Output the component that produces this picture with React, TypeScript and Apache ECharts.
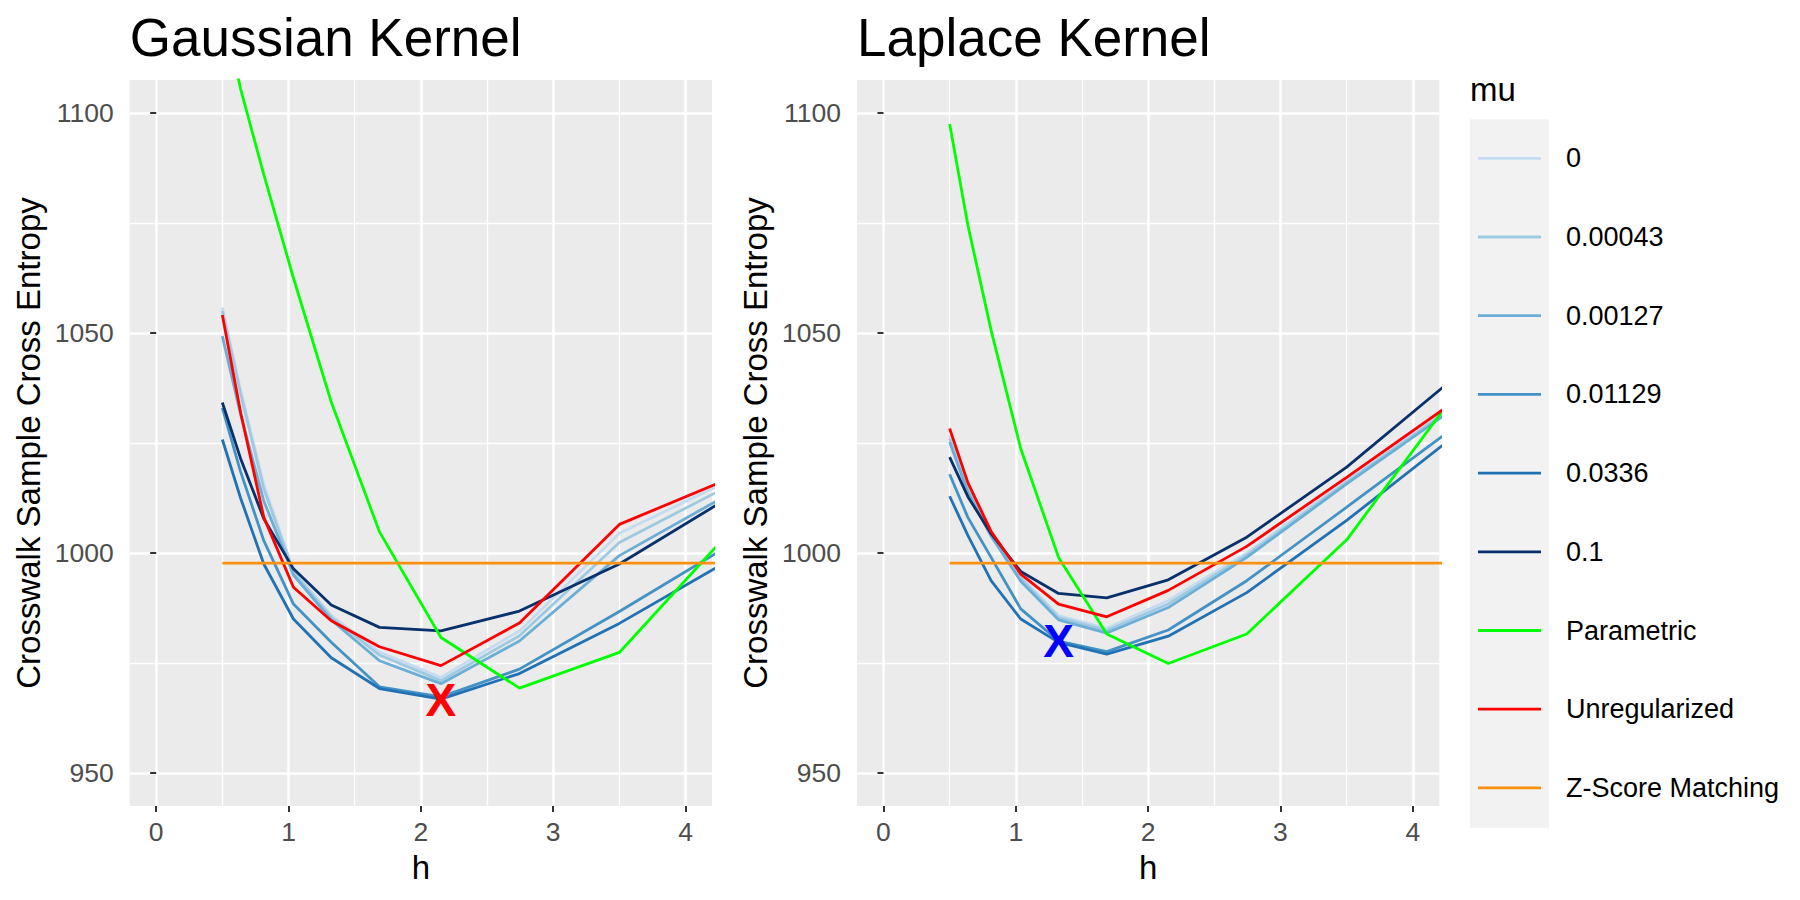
import React, { useEffect, useRef } from "react";
import * as echarts from "echarts";

// ---------- data ----------
const H = [0.5, 0.6377, 0.8133, 1.0373, 1.3229, 1.6873, 2.152, 2.745, 3.5, 4.464];

const SERIES_NAMES = ["0", "0.00043", "0.00127", "0.01129", "0.0336", "0.1", "Parametric", "Unregularized", "Z-Score Matching"];
const SERIES_COLORS = ["#C6DBEF", "#9ECAE1", "#6BAED6", "#4292C6", "#2171B5", "#08306B", "#00FF00", "#FF0000", "#FF9010"];

// Gaussian kernel panel
const gaussMu0 = [1055.8, 1037.0, 1015.5, 996.0, 985.8, 977.5, 971.7, 982.3, 1004.5, 1018.4];
const gaussMu00043 = [1055.0, 1036.3, 1014.6, 995.6, 985.4, 976.8, 971.0, 981.2, 1002.4, 1017.4];
const gaussMu00127 = [1049.3, 1031.5, 1011.8, 995.0, 984.8, 975.5, 970.3, 980.0, 999.4, 1015.7];
const gaussMu01129 = [1033.0, 1018.5, 1002.8, 988.4, 979.7, 969.6, 967.3, 973.6, 986.7, 1004.2];
const gaussMu0336 = [1025.8, 1012.5, 997.5, 985.0, 976.2, 969.2, 966.8, 972.6, 984.0, 1000.7];
const gaussMu1 = [1034.2, 1021.5, 1007.8, 996.4, 988.2, 983.1, 982.3, 986.8, 997.5, 1015.1];
const gaussParametric = [1124.8, 1105.5, 1086.0, 1062.5, 1034.3, 1004.8, 980.8, 969.3, 977.4, 1009.1];
const gaussUnreg = [1054.1, 1032.0, 1008.1, 992.2, 984.6, 978.7, 974.4, 984.1, 1006.5, 1018.6];

// Laplace kernel panel
const lapMu0 = [1026.8, 1015.0, 1005.0, 994.6, 985.8, 982.9, 989.2, 1000.0, 1016.5, 1036.9];
const lapMu00043 = [1026.0, 1014.5, 1004.5, 994.2, 985.3, 982.4, 988.4, 999.5, 1016.1, 1036.5];
const lapMu00127 = [1025.2, 1013.8, 1003.8, 993.6, 984.8, 981.8, 987.6, 999.0, 1015.7, 1036.1];
const lapMu01129 = [1017.9, 1008.1, 999.0, 987.3, 980.0, 977.6, 982.5, 993.7, 1010.4, 1031.9];
const lapMu0336 = [1012.9, 1004.0, 993.7, 985.0, 979.7, 977.0, 981.1, 991.0, 1007.4, 1030.1];
const lapMu1 = [1021.8, 1012.8, 1004.4, 995.8, 990.8, 989.8, 993.9, 1003.6, 1019.5, 1043.6];
const lapParametric = [1097.5, 1074.5, 1050.6, 1023.7, 999.0, 981.6, 974.9, 981.6, 1003.0, 1042.0];
const lapUnreg = [1028.3, 1016.0, 1004.9, 995.2, 988.4, 985.5, 991.5, 1001.5, 1017.2, 1037.6];

const ZSCORE = 997.7;

const gaussMin = [2.152, 966.5];
const lapMin = [1.3229, 980.0];

const X_MAJOR = [0, 1, 2, 3, 4];
const X_MINOR = [0.5, 1.5, 2.5, 3.5];
const Y_MAJOR = [950, 1000, 1050, 1100];
const Y_MINOR = [975, 1025, 1075];

const PANEL_TITLES = ["Gaussian Kernel", "Laplace Kernel"];

// ---------- layout ----------
const FONT = '"Liberation Sans", Arial, Helvetica, sans-serif';
const GRID_TOP = 80;
const GRID_H = 726;
const GRID_W = 582.3;
const GRID_LEFTS = [129.7, 857];

const plain = (v: number) => String(v);

function xAxis(gridIndex: number, major: boolean) {
  return {
    type: "value",
    gridIndex,
    min: -0.2,
    max: 4.2,
    axisLine: { show: false },
    axisTick: major
      ? { show: true, length: 6, lineStyle: { color: "#333333", width: 2 }, customValues: X_MAJOR }
      : { show: false, customValues: X_MINOR },
    axisLabel: major
      ? { show: true, customValues: X_MAJOR, formatter: plain, fontSize: 26.5, color: "#4D4D4D", margin: 12, fontFamily: FONT }
      : { show: false },
    splitLine: { show: true, lineStyle: { color: "#FFFFFF", width: major ? 2.6 : 1.3 } },
  };
}

function yAxis(gridIndex: number, major: boolean) {
  return {
    type: "value",
    gridIndex,
    min: 942.5,
    max: 1107.5,
    axisLine: { show: false },
    axisTick: major
      ? { show: true, length: 6, lineStyle: { color: "#333333", width: 2 }, customValues: Y_MAJOR }
      : { show: false, customValues: Y_MINOR },
    axisLabel: major
      ? { show: true, customValues: Y_MAJOR, formatter: plain, fontSize: 26.5, color: "#4D4D4D", margin: 16, fontFamily: FONT }
      : { show: false },
    splitLine: { show: true, lineStyle: { color: "#FFFFFF", width: major ? 2.6 : 1.3 } },
  };
}

function lineSeries(panel: number, idx: number, vals: number[]) {
  return {
    type: "line",
    name: SERIES_NAMES[idx],
    xAxisIndex: panel * 2,
    yAxisIndex: panel * 2,
    data: H.map((h, i) => [h, vals[i]]),
    showSymbol: false,
    symbol: "none",
    clip: true,
    silent: true,
    z: 3 + idx * 0.01,
    lineStyle: { color: SERIES_COLORS[idx], width: 2.8 },
    itemStyle: { color: SERIES_COLORS[idx] },
  };
}

function markerSeries(panel: number, pt: number[], color: string) {
  return {
    type: "scatter",
    xAxisIndex: panel * 2,
    yAxisIndex: panel * 2,
    data: [pt],
    symbolSize: 1,
    silent: true,
    z: 10,
    itemStyle: { color: "transparent", opacity: 1 },
    label: {
      show: true,
      position: "inside",
      formatter: "X",
      fontSize: 46,
      fontWeight: "bold",
      color,
      opacity: 1,
      fontFamily: FONT,
    },
  };
}

function buildOption() {
  const panels = [
    [gaussMu0, gaussMu00043, gaussMu00127, gaussMu01129, gaussMu0336, gaussMu1, gaussParametric, gaussUnreg],
    [lapMu0, lapMu00043, lapMu00127, lapMu01129, lapMu0336, lapMu1, lapParametric, lapUnreg],
  ];
  const series: any[] = [];
  panels.forEach((arrs, p) => {
    arrs.forEach((vals, i) => series.push(lineSeries(p, i, vals)));
    series.push(lineSeries(p, 8, H.map(() => ZSCORE)));
  });
  series.push(markerSeries(0, gaussMin, "#FF0000"));
  series.push(markerSeries(1, lapMin, "#0000FF"));

  const graphic: any[] = [];
  GRID_LEFTS.forEach((left, p) => {
    graphic.push({
      type: "text",
      x: left,
      y: 37,
      style: { text: PANEL_TITLES[p], fontSize: 53, fontFamily: FONT, fill: "#000000", textAlign: "left", textVerticalAlign: "middle" },
    });
    graphic.push({
      type: "text",
      x: left + GRID_W / 2,
      y: 867,
      style: { text: "h", fontSize: 33, fontFamily: FONT, fill: "#000000", textAlign: "center", textVerticalAlign: "middle" },
    });
    graphic.push({
      type: "text",
      x: left - 101.3,
      y: GRID_TOP + GRID_H / 2,
      rotation: Math.PI / 2,
      style: {
        text: "Crosswalk Sample Cross Entropy",
        fontSize: 33,
        fontFamily: FONT,
        fill: "#000000",
        textAlign: "center",
        textVerticalAlign: "middle",
      },
    });
  });

  // legend
  graphic.push({
    type: "text",
    x: 1470,
    y: 89.3,
    style: { text: "mu", fontSize: 33, fontFamily: FONT, fill: "#000000", textAlign: "left", textVerticalAlign: "middle" },
  });
  graphic.push({
    type: "rect",
    shape: { x: 1470, y: 119.3, width: 79, height: 708.4 },
    style: { fill: "#F2F2F2" },
  });
  SERIES_NAMES.forEach((name, i) => {
    const y = 158.3 + 78.7 * i;
    graphic.push({
      type: "line",
      shape: { x1: 1478, y1: y, x2: 1541, y2: y },
      style: { stroke: SERIES_COLORS[i], lineWidth: 2.8 },
    });
    graphic.push({
      type: "text",
      x: 1566,
      y,
      style: { text: name, fontSize: 27, fontFamily: FONT, fill: "#000000", textAlign: "left", textVerticalAlign: "middle" },
    });
  });

  return {
    animation: false,
    backgroundColor: "#FFFFFF",
    textStyle: { fontFamily: FONT },
    grid: GRID_LEFTS.map((left) => ({
      left,
      top: GRID_TOP,
      width: GRID_W,
      height: GRID_H,
      show: true,
      backgroundColor: "#EBEBEB",
      borderWidth: 0,
      containLabel: false,
    })),
    xAxis: [xAxis(0, true), xAxis(0, false), xAxis(1, true), xAxis(1, false)],
    yAxis: [yAxis(0, true), yAxis(0, false), yAxis(1, true), yAxis(1, false)],
    series,
    graphic,
  };
}

export default function App() {
  const ref = useRef<HTMLDivElement>(null);
  useEffect(() => {
    if (!ref.current) return;
    const chart = echarts.init(ref.current, null, { renderer: "svg", width: 1800, height: 900 });
    chart.setOption(buildOption() as any);
    return () => chart.dispose();
  }, []);
  return (
    <div
      ref={ref}
      style={{ position: "fixed", left: 0, top: 0, width: 1800, height: 900, background: "#FFFFFF" }}
    />
  );
}
